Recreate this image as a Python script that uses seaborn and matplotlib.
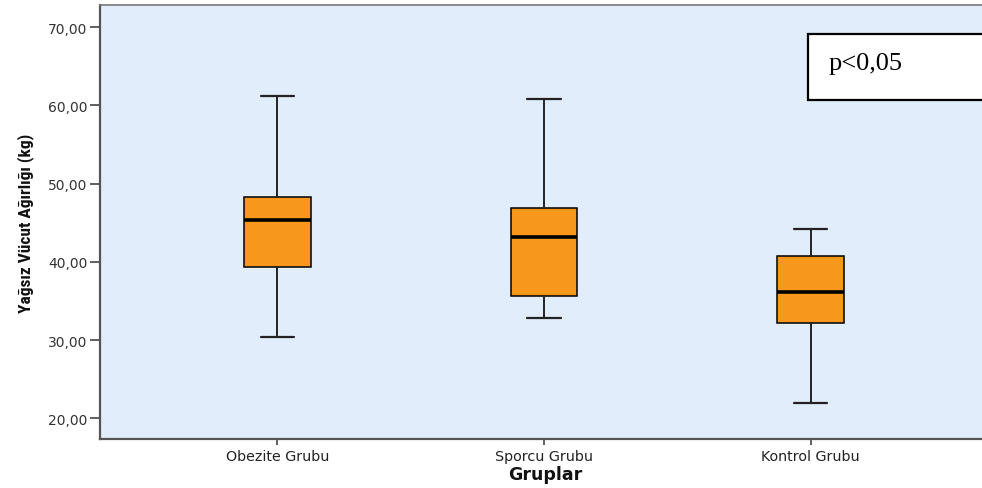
import numpy as np
import pandas as pd
import matplotlib
matplotlib.use("Agg")
import matplotlib.pyplot as plt
from matplotlib.patches import Rectangle
from matplotlib.ticker import FuncFormatter, FixedLocator
import seaborn as sns

# ---- data (five-number summaries) ----
groups = ["Obezite Grubu", "Sporcu Grubu", "Kontrol Grubu"]
obezite = [30.4, 39.3, 45.4, 48.3, 61.2]
sporcu = [32.8, 35.6, 43.2, 46.9, 60.8]
kontrol = [22.0, 32.2, 36.2, 40.8, 44.2]
y_ticks = [20, 30, 40, 50, 60, 70]
x_title = "Gruplar"
y_title = "Yağsız Vücut Ağırlığı (kg)"
p_text = "p<0,05"

df = pd.DataFrame({
    "grup": np.repeat(groups, 5),
    "deger": obezite + sporcu + kontrol,
})

sns.set_style("white")
plt.rcParams["font.family"] = ["DejaVu Sans"]

W, H = 982, 489
fig = plt.figure(figsize=(W / 100, H / 100), dpi=100)
fig.patch.set_facecolor("white")
ax = fig.add_axes([100 / W, (H - 440) / H, (1000 - 100) / W, (440 - 6) / H])
ax.set_facecolor("#E1EDFA")

sns.boxplot(
    data=df, x="grup", y="deger", order=groups, ax=ax,
    color="#F7981D", saturation=1, width=0.25, whis=(0, 100),
    showfliers=False, linecolor="black", linewidth=1.1,
    medianprops=dict(linewidth=2.6, color="black"),
    whiskerprops=dict(linewidth=1.4, color="#222222"),
    capprops=dict(linewidth=1.6, color="#222222"),
)

ax.set_xlim(-0.666, 2.711)
ax.set_ylim(17.35, 72.85)
ax.yaxis.set_major_locator(FixedLocator(y_ticks))
ax.yaxis.set_major_formatter(FuncFormatter(lambda v, p: f"{v:.2f}".replace(".", ",")))

for s in ["left", "bottom"]:
    ax.spines[s].set_color("#555555")
    ax.spines[s].set_linewidth(1.6)
ax.spines["right"].set_visible(False)
ax.spines["top"].set_color("#777777")
ax.spines["top"].set_linewidth(1.2)

ax.tick_params(axis="y", which="major", direction="out", length=7, width=1.2,
               color="#444444", labelsize=10, labelcolor="#333333", pad=2, left=True)
ax.tick_params(axis="x", which="major", direction="out", length=4, width=1.2,
               color="#444444", labelsize=10.3, labelcolor="#222222", pad=3, bottom=True)

ax.set_xlabel(x_title, fontsize=12.5, fontweight="bold", color="#111111")
ax.xaxis.set_label_coords((545 - 100) / 900, -0.060)
ax.set_ylabel(y_title, fontsize=12.5, fontweight="bold", color="#111111",
              family=["Liberation Sans Narrow", "Roboto Condensed", "DejaVu Sans"])
ax.yaxis.set_label_coords((34 - 100) / 900, 0.5)

# p-value box
ax.add_patch(Rectangle((1.992, 60.7), 1.2, 8.44, facecolor="white",
                       edgecolor="black", linewidth=1.6, clip_on=False, zorder=5))
ax.text(2.069, 65.4, p_text, family=["Liberation Serif", "DejaVu Serif"],
        fontsize=19, va="center", ha="left", zorder=6, color="black")

fig.savefig("out.png", dpi=100)
